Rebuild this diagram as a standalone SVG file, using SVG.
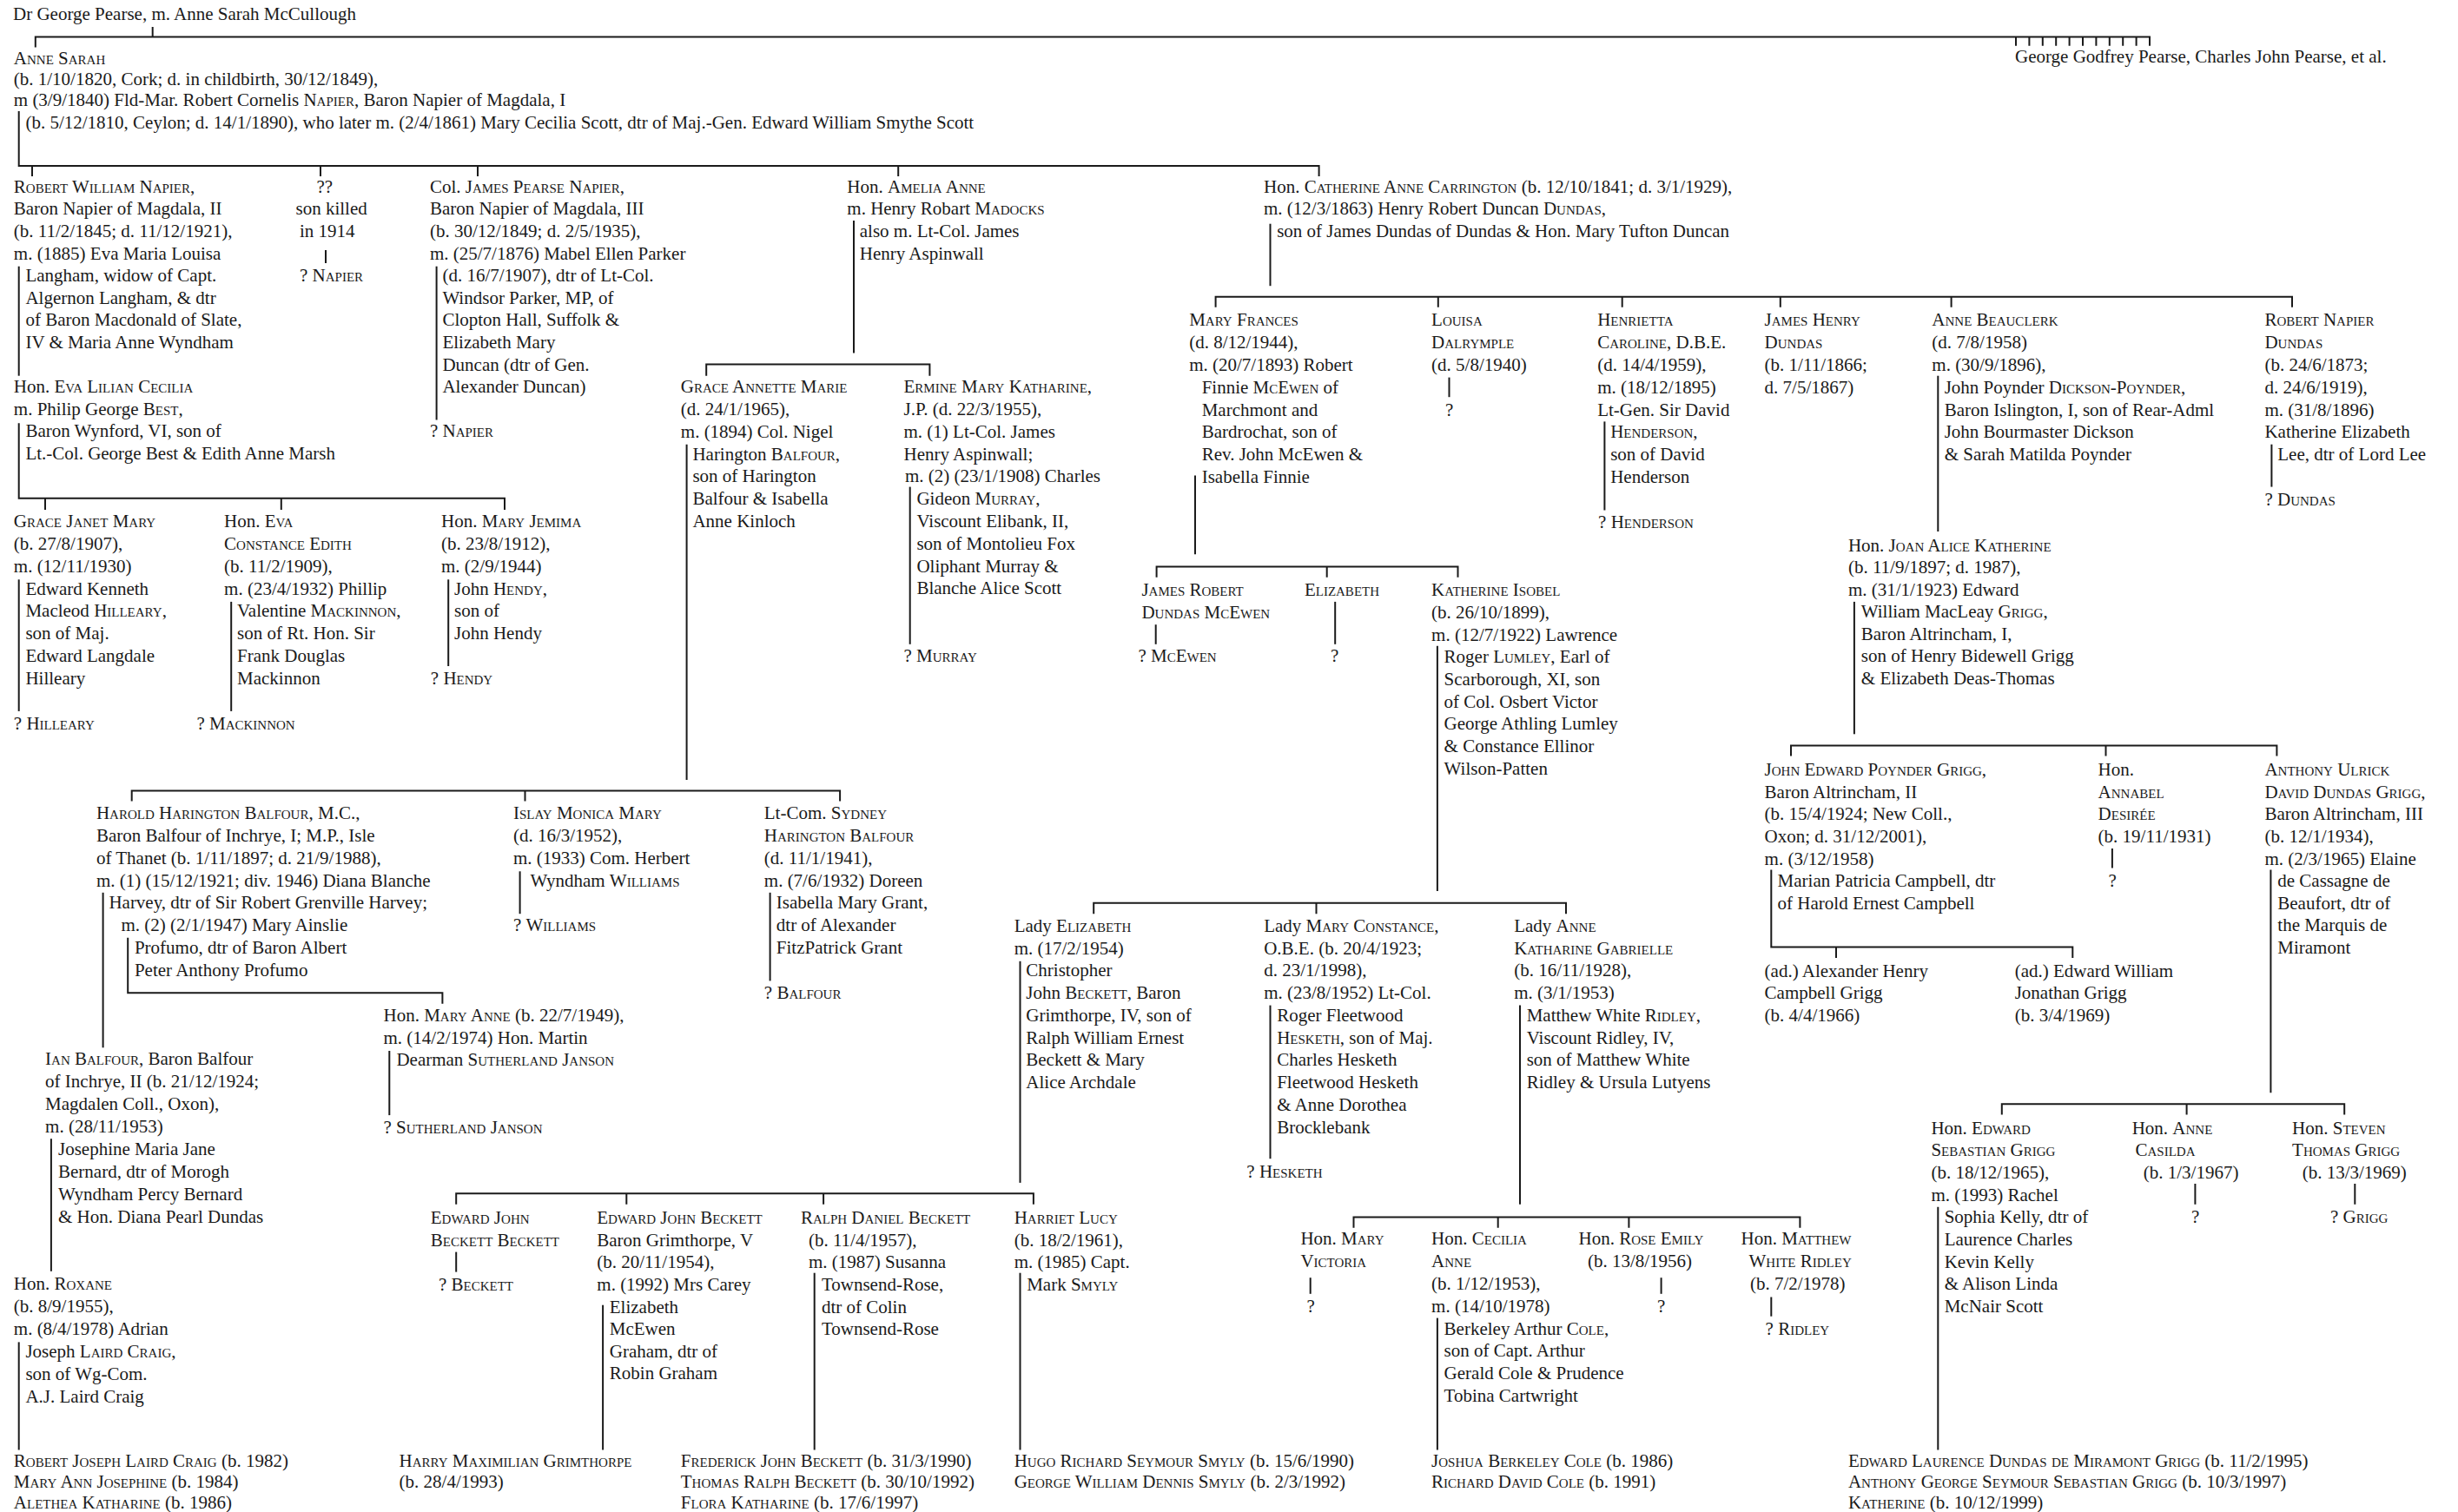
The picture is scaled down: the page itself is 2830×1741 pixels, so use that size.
<svg xmlns="http://www.w3.org/2000/svg" width="2830" height="1741" viewBox="0 0 2830 1741">
<style>
text{font-family:"Liberation Serif","Times New Roman",serif;font-size:21px;fill:#1a1a1a}
.s{font-variant:small-caps}
.c path{fill:none;stroke:#1a1a1a;stroke-width:2}
</style>
<rect width="2830" height="1741" fill="#fff"/>
<g class="c" id="connectors">
<path d="M175.7,31V42.5"/>
<path d="M40.8,54.6V42.5H2475V52.7"/>
<path d="M2321,42.5v10.2M2336.4,42.5v10.2M2351.8,42.5v10.2M2367.2,42.5v10.2M2382.6,42.5v10.2M2398,42.5v10.2M2413.4,42.5v10.2M2428.8,42.5v10.2M2444.2,42.5v10.2M2459.6,42.5v10.2"/>
<path d="M21.7,128V191H1518.6V203M37,191V203M369,191V203M550,191V203M1034.2,191V203"/>
<path d="M375,288V303"/>
<path d="M21.7,306.7V432.7"/>
<path d="M21.7,487.3V573.8H581V587M52,573.8V587M323.8,573.8V587"/>
<path d="M502.6,306.7V483.5"/>
<path d="M983,254V406.4"/>
<path d="M813.2,432.7V419.5H1070.4V432.7"/>
<path d="M1462.5,257.7V329.2"/>
<path d="M1399.6,353.7V341.7H2639V353.7M1655.8,341.7V353.7M1867.7,341.7V353.7M2049.8,341.7V353.7M2246.6,341.7V353.7"/>
<path d="M21.7,667.3V818.9"/>
<path d="M266.2,692.9V818.9"/>
<path d="M516.2,667.3V767"/>
<path d="M790.6,511.7V898"/>
<path d="M151.7,922.4V910.4H967.1V922.4M604.5,910.4V922.4"/>
<path d="M1047.7,560.6V741.8"/>
<path d="M1376,547.5V638.3"/>
<path d="M1331.6,664.7V652.6H1678.5V664.7M1527.7,652.6V664.7"/>
<path d="M1668.5,434.6V457.2"/>
<path d="M1847.4,485.4V587.5"/>
<path d="M2231.3,432.7V612"/>
<path d="M2615.4,511.7V560.6"/>
<path d="M2134.9,692.9V845.3"/>
<path d="M2062,870.5V858.4H2621.4V870.5M2424.5,858.4V870.5"/>
<path d="M1330.7,719.2V741.8"/>
<path d="M1537.2,692.9V741.8"/>
<path d="M1654.9,743.7V1025.9"/>
<path d="M1259.2,1052.2V1039.8H1803V1052.2M1515.5,1039.8V1052.2"/>
<path d="M118.6,1027.8V1206.3"/>
<path d="M147.2,1079.7V1143.3H509.4V1155.7"/>
<path d="M448.3,1210V1284.1"/>
<path d="M598.6,1003.3V1052.2"/>
<path d="M886.6,1027.8V1129.4"/>
<path d="M1174.5,1106.8V1361.9"/>
<path d="M525.2,1386.8V1374.2H1189.9V1386.8M721.3,1374.2V1386.8M948.1,1374.2V1386.8"/>
<path d="M1462.5,1157.6V1334.2"/>
<path d="M1750,1157.6V1386.8"/>
<path d="M1558.5,1413.8V1401.6H2072.4V1413.8M1724.7,1401.6V1413.8M1875.4,1401.6V1413.8"/>
<path d="M58.9,1311.2V1463.8"/>
<path d="M21.7,1545.4V1669.5"/>
<path d="M525.2,1441.6V1464.6"/>
<path d="M694.1,1502.7V1669.5"/>
<path d="M937.7,1465.7V1669.5"/>
<path d="M1174.5,1465.7V1669.5"/>
<path d="M1508.7,1471.2V1489.8"/>
<path d="M1912.6,1471.2V1489.8"/>
<path d="M2039.3,1493.5V1515.7"/>
<path d="M1654.9,1517.6V1669.5"/>
<path d="M2039.3,1001.4V1090.6H2386.3V1103M2114,1090.6V1103"/>
<path d="M2431.9,977V999.5"/>
<path d="M2614.4,1001.4V1258.2"/>
<path d="M2304.8,1283.4V1271.2H2699.2V1283.4M2517.6,1271.2V1283.4"/>
<path d="M2231.3,1389.7V1669.5"/>
<path d="M2527.4,1363V1386.8"/>
<path d="M2711.3,1363V1386.8"/>
</g>

<g id="n-george"><text x="15" y="23.4">Dr George Pearse, m. Anne Sarah McCullough</text></g>
<g id="n-pearse-siblings"><text x="2320" y="72.3">George Godfrey Pearse, Charles John Pearse, et al.</text></g>

<g id="n-anne-sarah"><text>
<tspan x="15.8" y="73.5" class="s">Anne Sarah</tspan>
<tspan x="15.8" y="98">(b. 1/10/1820, Cork; d. in childbirth, 30/12/1849),</tspan>
<tspan x="15.8" y="122.4">m (3/9/1840) Fld-Mar. Robert Cornelis <tspan class="s">Napier</tspan>, Baron Napier of Magdala, I</tspan>
<tspan x="29.4" y="148">(b. 5/12/1810, Ceylon; d. 14/1/1890), who later m. (2/4/1861) Mary Cecilia Scott, dtr of Maj.-Gen. Edward William Smythe Scott</tspan>
</text></g>

<g id="n-robert-william"><text>
<tspan x="15.8" y="221.7"><tspan class="s">Robert William Napier</tspan>,</tspan>
<tspan x="15.8" y="247.3">Baron Napier of Magdala, II</tspan>
<tspan x="15.8" y="272.9">(b. 11/2/1845; d. 11/12/1921),</tspan>
<tspan x="15.8" y="298.5">m. (1885) Eva Maria Louisa</tspan>
<tspan x="29.4" y="324.1">Langham, widow of Capt.</tspan>
<tspan x="29.4" y="349.7">Algernon Langham, &amp; dtr</tspan>
<tspan x="29.4" y="375.3">of Baron Macdonald of Slate,</tspan>
<tspan x="29.4" y="400.9">IV &amp; Maria Anne Wyndham</tspan>
</text></g>

<g id="n-eva-lilian"><text>
<tspan x="15.8" y="452.1">Hon. <tspan class="s">Eva Lilian Cecilia</tspan></tspan>
<tspan x="15.8" y="477.7">m. Philip George <tspan class="s">Best</tspan>,</tspan>
<tspan x="29.4" y="503.3">Baron Wynford, VI, son of</tspan>
<tspan x="29.4" y="528.9">Lt.-Col. George Best &amp; Edith Anne Marsh</tspan>
</text></g>

<g id="n-son-killed"><text>
<tspan x="364.5" y="221.7">??</tspan>
<tspan x="340.5" y="247.3">son killed</tspan>
<tspan x="345" y="272.9">in 1914</tspan>
<tspan x="345" y="324.1">? <tspan class="s">Napier</tspan></tspan>
</text></g>

<g id="n-james-pearse"><text>
<tspan x="494.9" y="221.7">Col. <tspan class="s">James Pearse Napier</tspan>,</tspan>
<tspan x="494.9" y="247.3">Baron Napier of Magdala, III</tspan>
<tspan x="494.9" y="272.9">(b. 30/12/1849; d. 2/5/1935),</tspan>
<tspan x="494.9" y="298.5">m. (25/7/1876) Mabel Ellen Parker</tspan>
<tspan x="509.4" y="324.1">(d. 16/7/1907), dtr of Lt-Col.</tspan>
<tspan x="509.4" y="349.7">Windsor Parker, MP, of</tspan>
<tspan x="509.4" y="375.3">Clopton Hall, Suffolk &amp;</tspan>
<tspan x="509.4" y="400.9">Elizabeth Mary</tspan>
<tspan x="509.4" y="426.5">Duncan (dtr of Gen.</tspan>
<tspan x="509.4" y="452.1">Alexander Duncan)</tspan>
<tspan x="494.9" y="503.3">? <tspan class="s">Napier</tspan></tspan>
</text></g>

<g id="n-amelia"><text>
<tspan x="975.3" y="221.7">Hon. <tspan class="s">Amelia Anne</tspan></tspan>
<tspan x="975.3" y="247.3">m. Henry Robart <tspan class="s">Madocks</tspan></tspan>
<tspan x="989.8" y="272.9">also m. Lt-Col. James</tspan>
<tspan x="989.8" y="298.5">Henry Aspinwall</tspan>
</text></g>

<g id="n-catherine"><text>
<tspan x="1455" y="221.7">Hon. <tspan class="s">Catherine Anne Carrington</tspan> (b. 12/10/1841; d. 3/1/1929),</tspan>
<tspan x="1455" y="247.3">m. (12/3/1863) Henry Robert Duncan <tspan class="s">Dundas</tspan>,</tspan>
<tspan x="1470.2" y="272.9">son of James Dundas of Dundas &amp; Hon. Mary Tufton Duncan</tspan>
</text></g>

<g id="n-mary-frances"><text>
<tspan x="1369.2" y="375.3" class="s">Mary Frances</tspan>
<tspan x="1369.2" y="401.1">(d. 8/12/1944),</tspan>
<tspan x="1369.2" y="426.9">m. (20/7/1893) Robert</tspan>
<tspan x="1383.7" y="452.7">Finnie <tspan class="s">McEwen</tspan> of</tspan>
<tspan x="1383.7" y="478.5">Marchmont and</tspan>
<tspan x="1383.7" y="504.3">Bardrochat, son of</tspan>
<tspan x="1383.7" y="530.1">Rev. John McEwen &amp;</tspan>
<tspan x="1383.7" y="555.9">Isabella Finnie</tspan>
</text></g>

<g id="n-louisa"><text>
<tspan x="1648.1" y="375.3" class="s">Louisa</tspan>
<tspan x="1648.1" y="401.1" class="s">Dalrymple</tspan>
<tspan x="1648.1" y="426.9">(d. 5/8/1940)</tspan>
<tspan x="1664" y="478.5">?</tspan>
</text></g>

<g id="n-henrietta"><text>
<tspan x="1839.2" y="375.3" class="s">Henrietta</tspan>
<tspan x="1839.2" y="401.1"><tspan class="s">Caroline</tspan>, D.B.E.</tspan>
<tspan x="1839.2" y="426.9">(d. 14/4/1959),</tspan>
<tspan x="1839.2" y="452.7">m. (18/12/1895)</tspan>
<tspan x="1839.2" y="478.5">Lt-Gen. Sir David</tspan>
<tspan x="1854.2" y="504.3"><tspan class="s">Henderson</tspan>,</tspan>
<tspan x="1854.2" y="530.1">son of David</tspan>
<tspan x="1854.2" y="555.9">Henderson</tspan>
<tspan x="1840.1" y="607.5">? <tspan class="s">Henderson</tspan></tspan>
</text></g>

<g id="n-james-henry"><text>
<tspan x="2031.6" y="375.3" class="s">James Henry</tspan>
<tspan x="2031.6" y="401.1" class="s">Dundas</tspan>
<tspan x="2031.6" y="426.9">(b. 1/11/1866;</tspan>
<tspan x="2031.6" y="452.7">d. 7/5/1867)</tspan>
</text></g>

<g id="n-anne-beauclerk"><text>
<tspan x="2224.3" y="375.3" class="s">Anne Beauclerk</tspan>
<tspan x="2224.3" y="401.1">(d. 7/8/1958)</tspan>
<tspan x="2224.3" y="426.9">m. (30/9/1896),</tspan>
<tspan x="2238.7" y="452.7">John Poynder <tspan class="s">Dickson-Poynder</tspan>,</tspan>
<tspan x="2238.7" y="478.5">Baron Islington, I, son of Rear-Adml</tspan>
<tspan x="2238.7" y="504.3">John Bourmaster Dickson</tspan>
<tspan x="2238.7" y="530.1">&amp; Sarah Matilda Poynder</tspan>
</text></g>

<g id="n-robert-napier-dundas"><text>
<tspan x="2607.4" y="375.3" class="s">Robert Napier</tspan>
<tspan x="2607.4" y="401.1" class="s">Dundas</tspan>
<tspan x="2607.4" y="426.9">(b. 24/6/1873;</tspan>
<tspan x="2607.4" y="452.7">d. 24/6/1919),</tspan>
<tspan x="2607.4" y="478.5">m. (31/8/1896)</tspan>
<tspan x="2607.4" y="504.3">Katherine Elizabeth</tspan>
<tspan x="2622.3" y="530.1">Lee, dtr of Lord Lee</tspan>
<tspan x="2607.4" y="581.7">? <tspan class="s">Dundas</tspan></tspan>
</text></g>

<g id="n-grace-janet"><text>
<tspan x="15.8" y="607.2" class="s">Grace Janet Mary</tspan>
<tspan x="15.8" y="633">(b. 27/8/1907),</tspan>
<tspan x="15.8" y="658.8">m. (12/11/1930)</tspan>
<tspan x="29.4" y="684.6">Edward Kenneth</tspan>
<tspan x="29.4" y="710.4">Macleod <tspan class="s">Hilleary</tspan>,</tspan>
<tspan x="29.4" y="736.2">son of Maj.</tspan>
<tspan x="29.4" y="762">Edward Langdale</tspan>
<tspan x="29.4" y="787.8">Hilleary</tspan>
<tspan x="15.8" y="840">? <tspan class="s">Hilleary</tspan></tspan>
</text></g>

<g id="n-eva-constance"><text>
<tspan x="258.1" y="607.2">Hon. <tspan class="s">Eva</tspan></tspan>
<tspan x="258.1" y="633" class="s">Constance Edith</tspan>
<tspan x="258.1" y="658.8">(b. 11/2/1909),</tspan>
<tspan x="258.1" y="684.6">m. (23/4/1932) Phillip</tspan>
<tspan x="273" y="710.4">Valentine <tspan class="s">Mackinnon</tspan>,</tspan>
<tspan x="273" y="736.2">son of Rt. Hon. Sir</tspan>
<tspan x="273" y="762">Frank Douglas</tspan>
<tspan x="273" y="787.8">Mackinnon</tspan>
<tspan x="226.4" y="840">? <tspan class="s">Mackinnon</tspan></tspan>
</text></g>

<g id="n-mary-jemima"><text>
<tspan x="508" y="607.2">Hon. <tspan class="s">Mary Jemima</tspan></tspan>
<tspan x="508" y="633">(b. 23/8/1912),</tspan>
<tspan x="508" y="658.8">m. (2/9/1944)</tspan>
<tspan x="523" y="684.6">John <tspan class="s">Hendy</tspan>,</tspan>
<tspan x="523" y="710.4">son of</tspan>
<tspan x="523" y="736.2">John Hendy</tspan>
<tspan x="495.8" y="788">? <tspan class="s">Hendy</tspan></tspan>
</text></g>

<g id="n-grace-annette"><text>
<tspan x="783.8" y="452.1" class="s">Grace Annette Marie</tspan>
<tspan x="783.8" y="477.9">(d. 24/1/1965),</tspan>
<tspan x="783.8" y="503.7">m. (1894) Col. Nigel</tspan>
<tspan x="797.4" y="529.5">Harington <tspan class="s">Balfour</tspan>,</tspan>
<tspan x="797.4" y="555.3">son of Harington</tspan>
<tspan x="797.4" y="581.1">Balfour &amp; Isabella</tspan>
<tspan x="797.4" y="606.9">Anne Kinloch</tspan>
</text></g>

<g id="n-ermine"><text>
<tspan x="1040.5" y="452.1"><tspan class="s">Ermine Mary Katharine</tspan>,</tspan>
<tspan x="1040.5" y="477.9">J.P. (d. 22/3/1955),</tspan>
<tspan x="1040.5" y="503.7">m. (1) Lt-Col. James</tspan>
<tspan x="1040.5" y="529.5">Henry Aspinwall;</tspan>
<tspan x="1041.9" y="555.3">m. (2) (23/1/1908) Charles</tspan>
<tspan x="1055.4" y="581.1">Gideon <tspan class="s">Murray</tspan>,</tspan>
<tspan x="1055.4" y="606.9">Viscount Elibank, II,</tspan>
<tspan x="1055.4" y="632.7">son of Montolieu Fox</tspan>
<tspan x="1055.4" y="658.5">Oliphant Murray &amp;</tspan>
<tspan x="1055.4" y="684.3">Blanche Alice Scott</tspan>
<tspan x="1040.5" y="761.7">? <tspan class="s">Murray</tspan></tspan>
</text></g>

<g id="n-james-robert"><text>
<tspan x="1314.4" y="686.2" class="s">James Robert</tspan>
<tspan x="1314.4" y="711.9" class="s">Dundas McEwen</tspan>
<tspan x="1310.4" y="761.5">? <tspan class="s">McEwen</tspan></tspan>
</text></g>

<g id="n-elizabeth-mcewen"><text>
<tspan x="1501.9" y="686.2" class="s">Elizabeth</tspan>
<tspan x="1532" y="761.5">?</tspan>
</text></g>

<g id="n-katherine-isobel"><text>
<tspan x="1648.1" y="686.2" class="s">Katherine Isobel</tspan>
<tspan x="1648.1" y="711.9">(b. 26/10/1899),</tspan>
<tspan x="1648.1" y="737.6">m. (12/7/1922) Lawrence</tspan>
<tspan x="1662.6" y="763.3">Roger <tspan class="s">Lumley</tspan>, Earl of</tspan>
<tspan x="1662.6" y="789">Scarborough, XI, son</tspan>
<tspan x="1662.6" y="814.7">of Col. Osbert Victor</tspan>
<tspan x="1662.6" y="840.4">George Athling Lumley</tspan>
<tspan x="1662.6" y="866.1">&amp; Constance Ellinor</tspan>
<tspan x="1662.6" y="891.8">Wilson-Patten</tspan>
</text></g>

<g id="n-joan"><text>
<tspan x="2127.9" y="634.6">Hon. <tspan class="s">Joan Alice Katherine</tspan></tspan>
<tspan x="2127.9" y="660.1">(b. 11/9/1897; d. 1987),</tspan>
<tspan x="2127.9" y="685.6">m. (31/1/1923) Edward</tspan>
<tspan x="2142.8" y="711.1">William MacLeay <tspan class="s">Grigg</tspan>,</tspan>
<tspan x="2142.8" y="736.6">Baron Altrincham, I,</tspan>
<tspan x="2142.8" y="762.1">son of Henry Bidewell Grigg</tspan>
<tspan x="2142.8" y="787.6">&amp; Elizabeth Deas-Thomas</tspan>
</text></g>

<g id="n-harold"><text>
<tspan x="110.9" y="943.1"><tspan class="s">Harold Harington Balfour</tspan>, M.C.,</tspan>
<tspan x="110.9" y="968.9">Baron Balfour of Inchrye, I; M.P., Isle</tspan>
<tspan x="110.9" y="994.7">of Thanet (b. 1/11/1897; d. 21/9/1988),</tspan>
<tspan x="110.9" y="1020.5">m. (1) (15/12/1921; div. 1946) Diana Blanche</tspan>
<tspan x="125.4" y="1046.3">Harvey, dtr of Sir Robert Grenville Harvey;</tspan>
<tspan x="139.5" y="1072.1">m. (2) (2/1/1947) Mary Ainslie</tspan>
<tspan x="154.9" y="1097.9">Profumo, dtr of Baron Albert</tspan>
<tspan x="154.9" y="1123.7">Peter Anthony Profumo</tspan>
</text></g>

<g id="n-islay"><text>
<tspan x="590.9" y="943.1" class="s">Islay Monica Mary</tspan>
<tspan x="590.9" y="968.9">(d. 16/3/1952),</tspan>
<tspan x="590.9" y="994.7">m. (1933) Com. Herbert</tspan>
<tspan x="610.4" y="1020.5">Wyndham <tspan class="s">Williams</tspan></tspan>
<tspan x="590.9" y="1072.1">? <tspan class="s">Williams</tspan></tspan>
</text></g>

<g id="n-sydney"><text>
<tspan x="879.8" y="943.1">Lt-Com. <tspan class="s">Sydney</tspan></tspan>
<tspan x="879.8" y="968.9" class="s">Harington Balfour</tspan>
<tspan x="879.8" y="994.7">(d. 11/1/1941),</tspan>
<tspan x="879.8" y="1020.5">m. (7/6/1932) Doreen</tspan>
<tspan x="893.8" y="1046.3">Isabella Mary Grant,</tspan>
<tspan x="893.8" y="1072.1">dtr of Alexander</tspan>
<tspan x="893.8" y="1097.9">FitzPatrick Grant</tspan>
<tspan x="879.8" y="1149.5">? <tspan class="s">Balfour</tspan></tspan>
</text></g>

<g id="n-lady-elizabeth"><text>
<tspan x="1167.7" y="1072.7">Lady <tspan class="s">Elizabeth</tspan></tspan>
<tspan x="1167.7" y="1098.5">m. (17/2/1954)</tspan>
<tspan x="1181.3" y="1124.2">Christopher</tspan>
<tspan x="1181.3" y="1150">John <tspan class="s">Beckett</tspan>, Baron</tspan>
<tspan x="1181.3" y="1175.7">Grimthorpe, IV, son  of</tspan>
<tspan x="1181.3" y="1201.5">Ralph William Ernest</tspan>
<tspan x="1181.3" y="1227.2">Beckett &amp; Mary</tspan>
<tspan x="1181.3" y="1253">Alice Archdale</tspan>
</text></g>

<g id="n-mary-constance"><text>
<tspan x="1455.2" y="1072.7">Lady <tspan class="s">Mary Constance</tspan>,</tspan>
<tspan x="1455.2" y="1098.5">O.B.E. (b. 20/4/1923;</tspan>
<tspan x="1455.2" y="1124.2">d. 23/1/1998),</tspan>
<tspan x="1455.2" y="1150">m. (23/8/1952) Lt-Col.</tspan>
<tspan x="1470.2" y="1175.7">Roger Fleetwood</tspan>
<tspan x="1470.2" y="1201.5"><tspan class="s">Hesketh</tspan>, son of Maj.</tspan>
<tspan x="1470.2" y="1227.2">Charles Hesketh</tspan>
<tspan x="1470.2" y="1253">Fleetwood Hesketh</tspan>
<tspan x="1470.2" y="1278.7">&amp; Anne Dorothea</tspan>
<tspan x="1470.2" y="1304.5">Brocklebank</tspan>
<tspan x="1435.3" y="1356">? <tspan class="s">Hesketh</tspan></tspan>
</text></g>

<g id="n-lady-anne"><text>
<tspan x="1743.2" y="1072.7">Lady <tspan class="s">Anne</tspan></tspan>
<tspan x="1743.2" y="1098.5" class="s">Katharine Gabrielle</tspan>
<tspan x="1743.2" y="1124.2">(b. 16/11/1928),</tspan>
<tspan x="1743.2" y="1150">m. (3/1/1953)</tspan>
<tspan x="1757.7" y="1175.7">Matthew  White <tspan class="s">Ridley</tspan>,</tspan>
<tspan x="1757.7" y="1201.5">Viscount Ridley, IV,</tspan>
<tspan x="1757.7" y="1227.2">son of Matthew White</tspan>
<tspan x="1757.7" y="1253">Ridley &amp; Ursula Lutyens</tspan>
</text></g>

<g id="n-john-edward"><text>
<tspan x="2031.6" y="893.1"><tspan class="s">John Edward Poynder Grigg</tspan>,</tspan>
<tspan x="2031.6" y="918.7">Baron Altrincham, II</tspan>
<tspan x="2031.6" y="944.3">(b. 15/4/1924; New Coll.,</tspan>
<tspan x="2031.6" y="969.9">Oxon; d. 31/12/2001),</tspan>
<tspan x="2031.6" y="995.5">m. (3/12/1958)</tspan>
<tspan x="2046.6" y="1021.1">Marian Patricia Campbell, dtr</tspan>
<tspan x="2046.6" y="1046.7">of Harold Ernest Campbell</tspan>
</text></g>

<g id="n-annabel"><text>
<tspan x="2415.6" y="893.1">Hon.</tspan>
<tspan x="2415.6" y="918.7" class="s">Annabel</tspan>
<tspan x="2415.6" y="944.3" class="s">Desirée</tspan>
<tspan x="2415.6" y="969.9">(b. 19/11/1931)</tspan>
<tspan x="2427.5" y="1021.1">?</tspan>
</text></g>

<g id="n-anthony"><text>
<tspan x="2607.4" y="893.1" class="s">Anthony Ulrick</tspan>
<tspan x="2607.4" y="918.7"><tspan class="s">David Dundas Grigg</tspan>,</tspan>
<tspan x="2607.4" y="944.3">Baron Altrincham, III</tspan>
<tspan x="2607.4" y="969.9">(b. 12/1/1934),</tspan>
<tspan x="2607.4" y="995.5">m. (2/3/1965) Elaine</tspan>
<tspan x="2622.3" y="1021.1">de Cassagne de</tspan>
<tspan x="2622.3" y="1046.7">Beaufort, dtr of</tspan>
<tspan x="2622.3" y="1072.3">the Marquis de</tspan>
<tspan x="2622.3" y="1097.9">Miramont</tspan>
</text></g>

<g id="n-alexander"><text>
<tspan x="2031.6" y="1124.5">(ad.) Alexander Henry</tspan>
<tspan x="2031.6" y="1150">Campbell Grigg</tspan>
<tspan x="2031.6" y="1175.6">(b. 4/4/1966)</tspan>
</text></g>

<g id="n-edward-william"><text>
<tspan x="2319.7" y="1124.5">(ad.) Edward William</tspan>
<tspan x="2319.7" y="1150">Jonathan Grigg</tspan>
<tspan x="2319.7" y="1175.6">(b. 3/4/1969)</tspan>
</text></g>

<g id="n-mary-anne"><text>
<tspan x="441.5" y="1175.6">Hon. <tspan class="s">Mary Anne</tspan> (b. 22/7/1949),</tspan>
<tspan x="441.5" y="1201.5">m. (14/2/1974) Hon. Martin</tspan>
<tspan x="456.4" y="1227.4">Dearman <tspan class="s">Sutherland Janson</tspan></tspan>
<tspan x="441.5" y="1305.2">? <tspan class="s">Sutherland Janson</tspan></tspan>
</text></g>

<g id="n-ian"><text>
<tspan x="52.1" y="1226.3"><tspan class="s">Ian Balfour</tspan>, Baron Balfour</tspan>
<tspan x="52.1" y="1252.2">of Inchrye, II (b. 21/12/1924;</tspan>
<tspan x="52.1" y="1278.1">Magdalen Coll., Oxon),</tspan>
<tspan x="52.1" y="1304">m. (28/11/1953)</tspan>
<tspan x="67" y="1329.9">Josephine Maria Jane</tspan>
<tspan x="67" y="1355.8">Bernard, dtr of Morogh</tspan>
<tspan x="67" y="1381.7">Wyndham Percy Bernard</tspan>
<tspan x="67" y="1407.6">&amp; Hon. Diana Pearl Dundas</tspan>
</text></g>

<g id="n-roxane"><text>
<tspan x="15.8" y="1485">Hon. <tspan class="s">Roxane</tspan></tspan>
<tspan x="15.8" y="1510.9">(b. 8/9/1955),</tspan>
<tspan x="15.8" y="1536.8">m. (8/4/1978) Adrian</tspan>
<tspan x="29.4" y="1562.7">Joseph <tspan class="s">Laird Craig</tspan>,</tspan>
<tspan x="29.4" y="1588.6">son of Wg-Com.</tspan>
<tspan x="29.4" y="1614.5">A.J. Laird Craig</tspan>
</text></g>

<g id="n-craig-children"><text>
<tspan x="15.8" y="1689"><tspan class="s">Robert Joseph Laird Craig</tspan> (b. 1982)</tspan>
<tspan x="15.8" y="1713"><tspan class="s">Mary Ann Josephine</tspan> (b. 1984)</tspan>
<tspan x="15.8" y="1737"><tspan class="s">Alethea Katharine</tspan> (b. 1986)</tspan>
</text></g>

<g id="n-edward-john-beckett-beckett"><text>
<tspan x="495.8" y="1409.2" class="s">Edward John</tspan>
<tspan x="495.8" y="1434.8" class="s">Beckett Beckett</tspan>
<tspan x="504.9" y="1486">? <tspan class="s">Beckett</tspan></tspan>
</text></g>

<g id="n-edward-john-beckett"><text>
<tspan x="687.3" y="1409.2" class="s">Edward John Beckett</tspan>
<tspan x="687.3" y="1434.8">Baron Grimthorpe, V</tspan>
<tspan x="687.3" y="1460.4">(b. 20/11/1954),</tspan>
<tspan x="687.3" y="1486">m. (1992) Mrs Carey</tspan>
<tspan x="701.8" y="1511.6">Elizabeth</tspan>
<tspan x="701.8" y="1537.2">McEwen</tspan>
<tspan x="701.8" y="1562.8">Graham, dtr of</tspan>
<tspan x="701.8" y="1588.4">Robin Graham</tspan>
</text></g>

<g id="n-harry"><text>
<tspan x="459.6" y="1689" class="s">Harry Maximilian Grimthorpe</tspan>
<tspan x="459.6" y="1713">(b. 28/4/1993)</tspan>
</text></g>

<g id="n-ralph"><text>
<tspan x="921.9" y="1409.2" class="s">Ralph Daniel Beckett</tspan>
<tspan x="930.9" y="1434.8">(b. 11/4/1957),</tspan>
<tspan x="930.9" y="1460.4">m. (1987) Susanna</tspan>
<tspan x="945.9" y="1486">Townsend-Rose,</tspan>
<tspan x="945.9" y="1511.6">dtr of Colin</tspan>
<tspan x="945.9" y="1537.2">Townsend-Rose</tspan>
</text></g>

<g id="n-ralph-children"><text>
<tspan x="783.8" y="1689"><tspan class="s">Frederick John Beckett</tspan> (b. 31/3/1990)</tspan>
<tspan x="783.8" y="1713"><tspan class="s">Thomas Ralph Beckett</tspan> (b. 30/10/1992)</tspan>
<tspan x="783.8" y="1737"><tspan class="s">Flora Katharine</tspan> (b. 17/6/1997)</tspan>
</text></g>

<g id="n-harriet"><text>
<tspan x="1167.7" y="1409.2" class="s">Harriet Lucy</tspan>
<tspan x="1167.7" y="1434.8">(b. 18/2/1961),</tspan>
<tspan x="1167.7" y="1460.4">m. (1985) Capt.</tspan>
<tspan x="1182.2" y="1486">Mark <tspan class="s">Smyly</tspan></tspan>
</text></g>

<g id="n-smyly-children"><text>
<tspan x="1167.7" y="1689"><tspan class="s">Hugo Richard Seymour Smyly</tspan> (b. 15/6/1990)</tspan>
<tspan x="1167.7" y="1713"><tspan class="s">George William Dennis Smyly</tspan> (b. 2/3/1992)</tspan>
</text></g>

<g id="n-mary-victoria"><text>
<tspan x="1497.4" y="1433.3">Hon. <tspan class="s">Mary</tspan></tspan>
<tspan x="1497.4" y="1459.1" class="s">Victoria</tspan>
<tspan x="1504.5" y="1510.7">?</tspan>
</text></g>

<g id="n-cecilia"><text>
<tspan x="1648.1" y="1433.3">Hon. <tspan class="s">Cecilia</tspan></tspan>
<tspan x="1648.1" y="1459.1" class="s">Anne</tspan>
<tspan x="1648.1" y="1484.9">(b. 1/12/1953),</tspan>
<tspan x="1648.1" y="1510.7">m. (14/10/1978)</tspan>
<tspan x="1662.6" y="1536.5">Berkeley Arthur <tspan class="s">Cole</tspan>,</tspan>
<tspan x="1662.6" y="1562.3">son of Capt. Arthur</tspan>
<tspan x="1662.6" y="1588.1">Gerald Cole &amp; Prudence</tspan>
<tspan x="1662.6" y="1613.9">Tobina Cartwright</tspan>
</text></g>

<g id="n-cole-children"><text>
<tspan x="1648.1" y="1689"><tspan class="s">Joshua Berkeley Cole</tspan> (b. 1986)</tspan>
<tspan x="1648.1" y="1713"><tspan class="s">Richard David Cole</tspan> (b. 1991)</tspan>
</text></g>

<g id="n-rose-emily"><text>
<tspan x="1817.5" y="1433.3">Hon. <tspan class="s">Rose Emily</tspan></tspan>
<tspan x="1827.9" y="1459.1">(b. 13/8/1956)</tspan>
<tspan x="1908" y="1510.7">?</tspan>
</text></g>

<g id="n-matthew"><text>
<tspan x="2004.5" y="1433.3">Hon. <tspan class="s">Matthew</tspan></tspan>
<tspan x="2013.5" y="1459.1" class="s">White Ridley</tspan>
<tspan x="2014.9" y="1484.9">(b. 7/2/1978)</tspan>
<tspan x="2032.6" y="1536.5">? <tspan class="s">Ridley</tspan></tspan>
</text></g>

<g id="n-edward-sebastian"><text>
<tspan x="2223.4" y="1305.5">Hon. <tspan class="s">Edward</tspan></tspan>
<tspan x="2223.4" y="1331.2" class="s">Sebastian Grigg</tspan>
<tspan x="2223.4" y="1356.9">(b. 18/12/1965),</tspan>
<tspan x="2223.4" y="1382.6">m. (1993) Rachel</tspan>
<tspan x="2238.7" y="1408.3">Sophia Kelly, dtr of</tspan>
<tspan x="2238.7" y="1434">Laurence Charles</tspan>
<tspan x="2238.7" y="1459.7">Kevin Kelly</tspan>
<tspan x="2238.7" y="1485.4">&amp; Alison Linda</tspan>
<tspan x="2238.7" y="1511.1">McNair Scott</tspan>
</text></g>

<g id="n-anne-casilda"><text>
<tspan x="2454.7" y="1305.5">Hon. <tspan class="s">Anne</tspan></tspan>
<tspan x="2458.5" y="1331.2" class="s">Casilda</tspan>
<tspan x="2467.8" y="1356.9">(b. 1/3/1967)</tspan>
<tspan x="2523" y="1408.3">?</tspan>
</text></g>

<g id="n-steven"><text>
<tspan x="2639.1" y="1305.5">Hon. <tspan class="s">Steven</tspan></tspan>
<tspan x="2639.1" y="1331.2" class="s">Thomas Grigg</tspan>
<tspan x="2650.7" y="1356.9">(b. 13/3/1969)</tspan>
<tspan x="2682.9" y="1408.3">? <tspan class="s">Grigg</tspan></tspan>
</text></g>

<g id="n-grigg-children"><text>
<tspan x="2127.9" y="1689"><tspan class="s">Edward Laurence Dundas de Miramont Grigg</tspan> (b. 11/2/1995)</tspan>
<tspan x="2127.9" y="1713"><tspan class="s">Anthony George Seymour Sebastian Grigg</tspan> (b. 10/3/1997)</tspan>
<tspan x="2127.9" y="1737"><tspan class="s">Katherine</tspan> (b. 10/12/1999)</tspan>
</text></g>
</svg>
